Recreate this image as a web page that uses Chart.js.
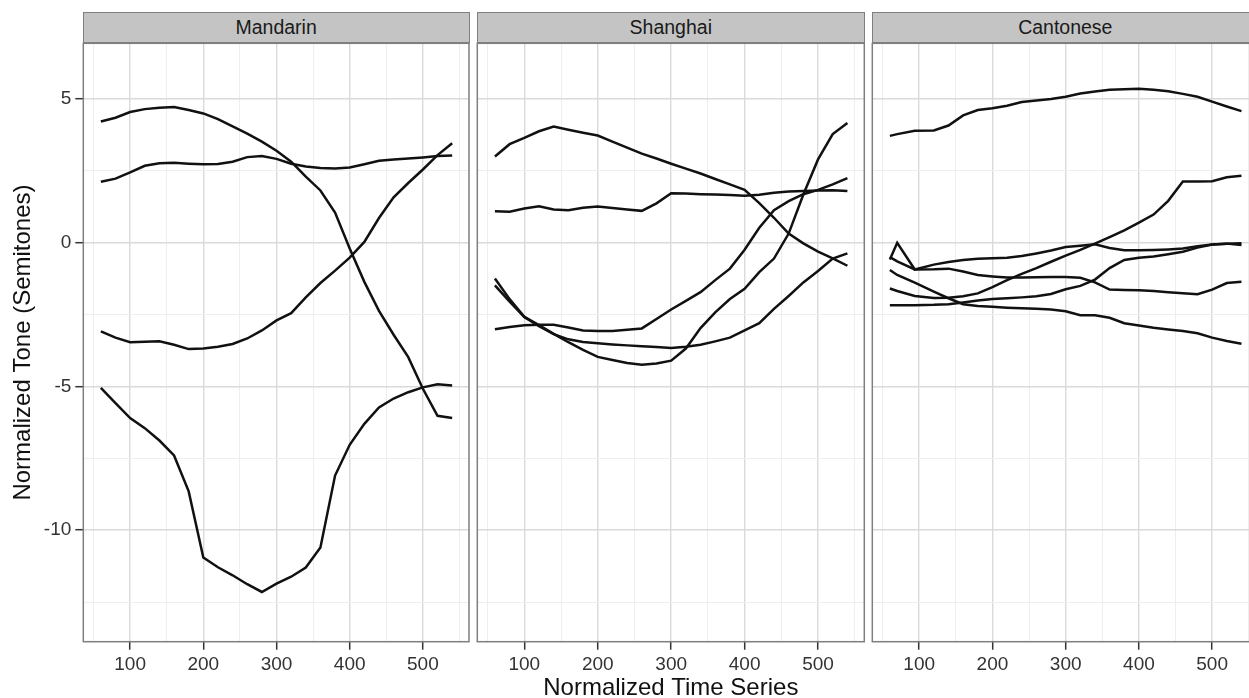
<!DOCTYPE html>
<html>
<head>
<meta charset="utf-8">
<script src="https://cdn.jsdelivr.net/npm/chart.js@4/dist/chart.umd.min.js"></script>
<style>
html, body { margin:0; padding:0; background:#ffffff; overflow:hidden; width:1249px; height:698px; }
canvas { position:absolute; }
.strip { position:absolute; box-sizing:border-box; background:#c4c4c4; border:1.5px solid #7f7f7f;
  font-family:"Liberation Sans", Arial, sans-serif; font-size:19.5px; color:#1a1a1a; text-align:center; }
</style>
</head>
<body>
<script>
// ---------- data ----------
const panelNames = ["Mandarin", "Shanghai", "Cantonese"];

const mandarinTime = [60,80,100,120,140,160,180,200,220,240,260,280,300,320,340,360,380,400,420,440,460,480,500,520,540];
const mandarinTone1 = [2.12,2.23,2.45,2.68,2.77,2.78,2.75,2.73,2.74,2.82,2.98,3.02,2.92,2.75,2.65,2.60,2.58,2.62,2.73,2.85,2.90,2.93,2.97,3.02,3.04];
const mandarinTone2 = [-3.08,-3.30,-3.46,-3.44,-3.43,-3.55,-3.70,-3.68,-3.62,-3.52,-3.33,-3.05,-2.70,-2.45,-1.90,-1.40,-0.97,-0.52,0.03,0.86,1.58,2.08,2.55,3.05,3.46];
const mandarinTone3 = [-5.05,-5.58,-6.10,-6.45,-6.88,-7.40,-8.65,-10.95,-11.29,-11.57,-11.88,-12.15,-11.86,-11.62,-11.30,-10.60,-8.10,-7.03,-6.30,-5.73,-5.42,-5.20,-5.03,-4.92,-4.97];
const mandarinTone4 = [4.22,4.35,4.55,4.65,4.70,4.72,4.62,4.50,4.30,4.05,3.80,3.52,3.20,2.82,2.30,1.82,1.05,-0.20,-1.36,-2.37,-3.20,-3.98,-5.08,-6.02,-6.10];

const shanghaiTime = [60,80,100,120,140,160,180,200,220,240,260,280,300,320,340,360,380,400,420,440,460,480,500,520,540];
const shanghaiTone1 = [3.00,3.43,3.65,3.88,4.04,3.93,3.83,3.73,3.52,3.31,3.10,2.93,2.75,2.58,2.41,2.22,2.03,1.84,1.38,0.87,0.32,-0.02,-0.31,-0.54,-0.80];
const shanghaiTone2 = [1.10,1.08,1.19,1.27,1.16,1.13,1.22,1.26,1.21,1.16,1.11,1.37,1.72,1.71,1.69,1.68,1.66,1.64,1.67,1.74,1.78,1.80,1.82,1.83,1.80];
const shanghaiTone3 = [-3.01,-2.93,-2.87,-2.85,-2.85,-2.95,-3.05,-3.07,-3.07,-3.03,-2.98,-2.65,-2.32,-2.02,-1.72,-1.30,-0.90,-0.24,0.52,1.13,1.45,1.69,1.84,2.03,2.25];
const shanghaiTone4 = [-1.24,-1.96,-2.58,-2.86,-3.17,-3.46,-3.73,-3.97,-4.08,-4.18,-4.24,-4.20,-4.10,-3.68,-2.97,-2.42,-1.96,-1.60,-1.02,-0.55,0.32,1.68,2.90,3.78,4.17];
const shanghaiTone5 = [-1.48,-2.05,-2.58,-2.90,-3.18,-3.36,-3.45,-3.50,-3.54,-3.57,-3.60,-3.63,-3.66,-3.62,-3.55,-3.43,-3.30,-3.05,-2.80,-2.30,-1.85,-1.38,-0.98,-0.55,-0.37];

const cantoneseTime = [60,70,94,120,140,160,180,200,220,240,260,280,300,320,340,360,380,400,420,440,460,480,500,520,540];
const cantoneseTone1 = [3.72,3.78,3.90,3.91,4.08,4.43,4.62,4.68,4.77,4.90,4.95,5.00,5.08,5.19,5.26,5.32,5.34,5.36,5.32,5.27,5.18,5.08,4.91,4.74,4.58];
const cantoneseTone2 = [-0.58,0.00,-0.93,-0.76,-0.67,-0.60,-0.56,-0.54,-0.52,-0.46,-0.37,-0.27,-0.15,-0.10,-0.05,-0.18,-0.26,-0.26,-0.25,-0.23,-0.20,-0.12,-0.06,-0.03,-0.08];
const cantoneseTone3 = [-0.50,-0.65,-0.93,-0.92,-0.90,-1.00,-1.12,-1.17,-1.21,-1.21,-1.20,-1.19,-1.19,-1.22,-1.38,-1.63,-1.64,-1.65,-1.68,-1.72,-1.76,-1.79,-1.63,-1.40,-1.36];
const cantoneseTone4 = [-0.95,-1.12,-1.39,-1.70,-1.93,-2.14,-2.20,-2.23,-2.26,-2.28,-2.30,-2.32,-2.38,-2.52,-2.52,-2.61,-2.80,-2.88,-2.96,-3.02,-3.07,-3.15,-3.30,-3.42,-3.51];
const cantoneseTone5 = [-1.59,-1.68,-1.85,-1.92,-1.91,-1.86,-1.76,-1.54,-1.30,-1.08,-0.88,-0.66,-0.45,-0.25,-0.03,0.20,0.43,0.70,0.98,1.46,2.13,2.13,2.14,2.28,2.33];
const cantoneseTone6 = [-2.17,-2.17,-2.17,-2.16,-2.14,-2.08,-2.01,-1.96,-1.93,-1.90,-1.86,-1.78,-1.62,-1.50,-1.28,-0.88,-0.60,-0.52,-0.48,-0.40,-0.31,-0.17,-0.06,-0.03,-0.02];

const xGridValues = [50,100,150,200,250,300,350,400,450,500,550];
const xTickLabels = [100,200,300,400,500];
const yGridValues = [-12.5,-10,-7.5,-5,-2.5,0,2.5,5];
const yTickLabels = [-10,-5,0,5];

const xTitle = "Normalized Time Series";
const yTitle = "Normalized Tone (Semitones)";

// ---------- layout ----------
const FONT = '"Liberation Sans", Arial, sans-serif';
const CANVAS_TOP = 40, CANVAS_H = 658;
const AREA_TOP = 43.3, AREA_BOTTOM = 641.7;
const X_MIN = 36, X_MAX = 563, Y_MIN = -13.88, Y_MAX = 6.94;

const panels = [
  { name: panelNames[0], time: mandarinTime, series: [mandarinTone1, mandarinTone2, mandarinTone3, mandarinTone4],
    canvasLeft: 0, canvasW: 472, areaLeft: 83.3, areaRight: 469.0 },
  { name: panelNames[1], time: shanghaiTime, series: [shanghaiTone1, shanghaiTone2, shanghaiTone3, shanghaiTone4, shanghaiTone5],
    canvasLeft: 470, canvasW: 400, areaLeft: 477.3, areaRight: 864.3 },
  { name: panelNames[2], time: cantoneseTime, series: [cantoneseTone1, cantoneseTone2, cantoneseTone3, cantoneseTone4, cantoneseTone5, cantoneseTone6],
    canvasLeft: 866, canvasW: 400, areaLeft: 872.3, areaRight: 1258.3 }
];

const panelBorder = {
  id: 'panelBorder',
  afterDraw(chart) {
    const { ctx, chartArea: a } = chart;
    ctx.save();
    ctx.strokeStyle = '#7f7f7f';
    ctx.lineWidth = 1.5;
    ctx.strokeRect(a.left, a.top, a.right - a.left, a.bottom - a.top);
    ctx.restore();
  }
};

const majorGrid = '#dadada', minorGrid = '#eeeeee';

panels.forEach((p, idx) => {
  // strip
  const strip = document.createElement('div');
  strip.className = 'strip';
  strip.style.left = (p.areaLeft - 0.75) + 'px';
  strip.style.width = (p.areaRight - p.areaLeft + 1.5) + 'px';
  strip.style.top = '12px';
  strip.style.height = (AREA_TOP - 12) + 'px';
  strip.style.lineHeight = (AREA_TOP - 12 - 3) + 'px';
  strip.textContent = p.name;
  document.body.appendChild(strip);

  const canvas = document.createElement('canvas');
  canvas.width = p.canvasW;
  canvas.height = CANVAS_H;
  canvas.style.left = p.canvasLeft + 'px';
  canvas.style.top = CANVAS_TOP + 'px';
  document.body.appendChild(canvas);

  const yWidth = idx === 0 ? (p.areaLeft - p.canvasLeft) : 0;
  const padLeft = idx === 0 ? 0 : (p.areaLeft - p.canvasLeft);
  const padRight = p.canvasLeft + p.canvasW - p.areaRight;
  const padTop = AREA_TOP - CANVAS_TOP;
  const xHeight = CANVAS_H - padTop - (AREA_BOTTOM - AREA_TOP);

  const datasets = p.series.map(vals => ({
    data: p.time.map((t, i) => ({ x: t, y: vals[i] })),
    borderColor: '#111111',
    borderWidth: 2.5,
    pointRadius: 0,
    tension: 0,
    fill: false
  }));

  new Chart(canvas, {
    type: 'line',
    data: { datasets },
    plugins: [panelBorder],
    options: {
      responsive: false,
      animation: false,
      events: [],
      layout: { padding: { left: padLeft, right: padRight, top: padTop, bottom: 0 } },
      plugins: { legend: { display: false }, tooltip: { enabled: false }, title: { display: false } },
      scales: {
        x: {
          type: 'linear', min: X_MIN, max: X_MAX,
          afterBuildTicks: s => { s.ticks = xGridValues.map(v => ({ value: v })); },
          afterFit: s => { s.height = xHeight; s.paddingLeft = 0; s.paddingRight = 0; },
          ticks: {
            autoSkip: false, maxRotation: 0, minRotation: 0, padding: 4,
            color: '#333333', font: { family: FONT, size: 19 },
            callback: v => xTickLabels.includes(v) ? String(v) : ''
          },
          grid: {
            color: c => (c.tick && xTickLabels.includes(c.tick.value)) ? majorGrid : minorGrid,
            lineWidth: c => (c.tick && xTickLabels.includes(c.tick.value)) ? 1.4 : 1,
            tickLength: 8, tickWidth: 1.5,
            tickColor: c => (c.tick && xTickLabels.includes(c.tick.value)) ? '#333333' : 'rgba(0,0,0,0)'
          },
          border: { display: false },
          title: {
            display: idx === 1, text: xTitle, color: '#111111',
            font: { family: FONT, size: 24, lineHeight: 1 },
            padding: { top: 0, bottom: -2 }
          }
        },
        y: {
          type: 'linear', min: Y_MIN, max: Y_MAX,
          afterBuildTicks: s => { s.ticks = yGridValues.map(v => ({ value: v })); },
          afterFit: s => { s.width = yWidth; s.paddingTop = 0; s.paddingBottom = 0; },
          ticks: {
            display: idx === 0, autoSkip: false, padding: 4,
            color: '#333333', font: { family: FONT, size: 19 },
            callback: v => yTickLabels.includes(v) ? String(v) : ''
          },
          grid: {
            color: c => (c.tick && yTickLabels.includes(c.tick.value)) ? majorGrid : minorGrid,
            lineWidth: c => (c.tick && yTickLabels.includes(c.tick.value)) ? 1.4 : 1,
            drawTicks: idx === 0, tickLength: 8, tickWidth: 1.5,
            tickColor: c => (c.tick && yTickLabels.includes(c.tick.value)) ? '#333333' : 'rgba(0,0,0,0)'
          },
          border: { display: false },
          title: {
            display: idx === 0, text: yTitle, color: '#111111',
            font: { family: FONT, size: 24, lineHeight: 1 },
            padding: { top: 11.4, bottom: 0 }
          }
        }
      }
    }
  });
});
</script>
</body>
</html>
